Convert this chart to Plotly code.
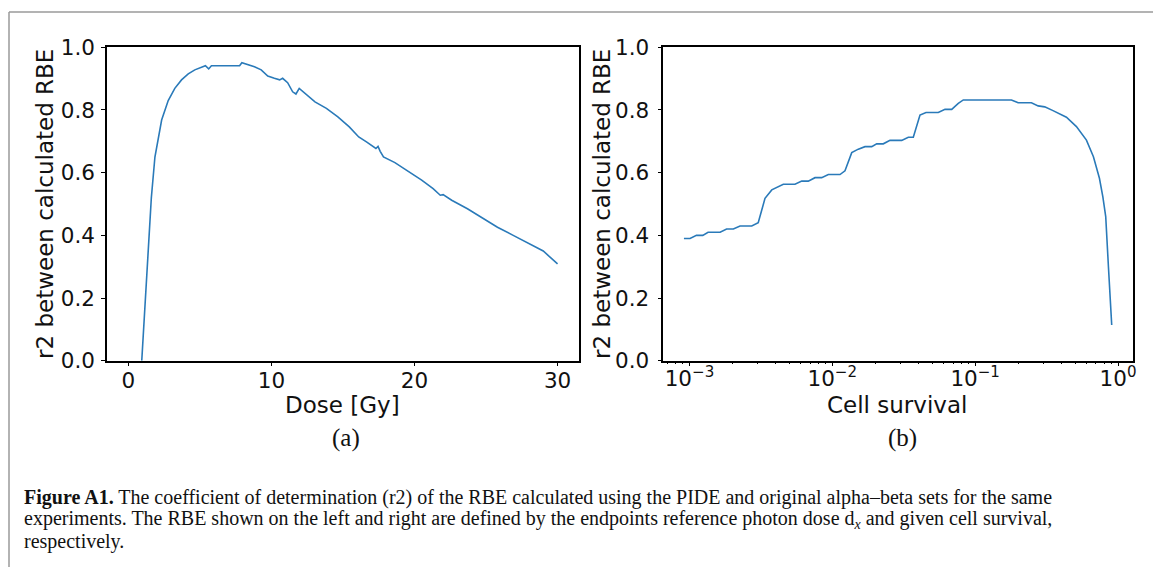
import plotly.graph_objects as go

# ---- data: panel (a)  r2 vs reference photon dose ----
dose = [0.93, 1.33, 1.60, 1.85, 2.13, 2.32, 2.78, 3.24, 3.71, 4.18, 4.64, 5.22, 5.38,
        5.61, 5.80, 6.50, 7.19, 7.77, 7.93, 8.23, 8.81, 9.28, 9.74, 10.20, 10.57, 10.78,
        11.13, 11.48, 11.71, 11.94, 12.24, 13.04, 13.84, 14.64, 15.44, 16.10, 16.64,
        17.30, 17.45, 17.60, 17.83, 18.63, 19.43, 20.50, 21.30, 21.80, 22.00, 22.60,
        23.70, 24.80, 25.80, 26.90, 27.90, 29.00, 30.00]
r2_dose = [0.000, 0.300, 0.520, 0.650, 0.725, 0.768, 0.830, 0.869, 0.896, 0.915, 0.928,
           0.938, 0.941, 0.931, 0.941, 0.941, 0.941, 0.941, 0.951, 0.947, 0.938, 0.928,
           0.908, 0.901, 0.896, 0.901, 0.887, 0.858, 0.851, 0.869, 0.858, 0.826, 0.805,
           0.778, 0.746, 0.714, 0.698, 0.677, 0.684, 0.668, 0.650, 0.632, 0.608, 0.576,
           0.549, 0.528, 0.530, 0.512, 0.485, 0.453, 0.426, 0.400, 0.375, 0.350, 0.309]

# ---- data: panel (b)  r2 vs cell survival ----
survival = [0.000915, 0.00101, 0.00112, 0.00124, 0.00135, 0.00164, 0.00182, 0.00203,
            0.00226, 0.00273, 0.00303, 0.00338, 0.00377, 0.00454, 0.00548, 0.00611,
            0.00679, 0.00757, 0.00843, 0.00938, 0.01132, 0.01227, 0.01368, 0.01521,
            0.01694, 0.01888, 0.02046, 0.02275, 0.02535, 0.03062, 0.03404, 0.03690,
            0.04111, 0.04529, 0.05521, 0.06152, 0.06855, 0.07621, 0.08260, 0.1795,
            0.2000, 0.2477, 0.2761, 0.3069, 0.3508, 0.4355, 0.5117, 0.6012, 0.6730,
            0.7413, 0.7834, 0.8204, 0.8570, 0.9036]
r2_surv = [0.390, 0.390, 0.400, 0.400, 0.410, 0.410, 0.420, 0.420, 0.430, 0.430, 0.440,
           0.518, 0.545, 0.563, 0.563, 0.573, 0.573, 0.584, 0.584, 0.594, 0.594, 0.606,
           0.664, 0.675, 0.683, 0.683, 0.692, 0.692, 0.703, 0.703, 0.713, 0.713, 0.784,
           0.792, 0.792, 0.802, 0.802, 0.821, 0.832, 0.832, 0.823, 0.823, 0.813, 0.810,
           0.798, 0.777, 0.747, 0.704, 0.651, 0.582, 0.523, 0.460, 0.300, 0.114]

# ---- tick labels ----
dose_ticks = [0, 10, 20, 30]
r2_ticks = [0.0, 0.2, 0.4, 0.6, 0.8, 1.0]
r2_ticktext = ["0.0", "0.2", "0.4", "0.6", "0.8", "1.0"]
surv_ticks = [0.001, 0.01, 0.1, 1]
surv_ticktext = ["10<sup>\u22123</sup>", "10<sup>\u22122</sup>", "10<sup>\u22121</sup>", "10<sup>0</sup>"]
surv_minor = [0.0007, 0.0008, 0.0009,
              0.002, 0.003, 0.004, 0.005, 0.006, 0.007, 0.008, 0.009,
              0.02, 0.03, 0.04, 0.05, 0.06, 0.07, 0.08, 0.09,
              0.2, 0.3, 0.4, 0.5, 0.6, 0.7, 0.8, 0.9]

W, H = 1153, 567
LINE = "#2a7ab9"
SANS = "DejaVu Sans"
SERIF = "Liberation Serif"


def px(x):
    return x / W


def py(y):
    return 1 - y / H


fig = go.Figure()
fig.add_trace(go.Scatter(x=dose, y=r2_dose, mode="lines", xaxis="x", yaxis="y",
                         line=dict(color=LINE, width=1.6), showlegend=False))
fig.add_trace(go.Scatter(x=survival, y=r2_surv, mode="lines", xaxis="x2", yaxis="y2",
                         line=dict(color=LINE, width=1.6), showlegend=False))

axis_common = dict(showline=True, linecolor="black", linewidth=1.5, mirror=True,
                   ticks="outside", ticklen=4, tickwidth=1.2, tickcolor="black",
                   showgrid=False, zeroline=False, automargin=False,
                   tickfont=dict(family=SANS, size=21.5, color="#111"))

y_top, y_bot = 47.3, 360.7
fig.update_layout(
    template="none",
    width=W, height=H, autosize=False,
    margin=dict(l=0, r=0, t=0, b=0, pad=0, autoexpand=False),
    paper_bgcolor="white", plot_bgcolor="white",
    showlegend=False,
    xaxis=dict(domain=[px(107), px(579)], range=[-1.5, 31.5], anchor="y",
               tickvals=dose_ticks, ticklabelstandoff=-4, **axis_common),
    yaxis=dict(domain=[py(y_bot), py(y_top)], range=[0, 1], anchor="x",
               tickvals=r2_ticks, ticktext=r2_ticktext, ticklabelstandoff=2, **axis_common),
    xaxis2=dict(domain=[px(663.3), px(1133)], type="log", range=[-3.183, 0.105], anchor="y2",
                tickvals=surv_ticks, ticktext=surv_ticktext, ticklabelstandoff=-6,
                minor=dict(tickvals=surv_minor, ticks="outside", ticklen=2, tickwidth=0.8,
                           tickcolor="black"),
                **axis_common),
    yaxis2=dict(domain=[py(y_bot), py(y_top)], range=[0, 1], anchor="x2",
                tickvals=r2_ticks, ticktext=r2_ticktext, ticklabelstandoff=4, **axis_common),
)

ann = []
title_font = dict(family=SANS, size=23, color="#111")
ylab = "r2 between calculated RBE"
ann.append(dict(text=ylab, x=px(45), y=py((y_top + y_bot) / 2), xref="paper", yref="paper",
                textangle=-90, showarrow=False, font=title_font, xanchor="center", yanchor="middle"))
ann.append(dict(text=ylab, x=px(602), y=py((y_top + y_bot) / 2), xref="paper", yref="paper",
                textangle=-90, showarrow=False, font=title_font, xanchor="center", yanchor="middle"))
ann.append(dict(text="Dose [Gy]", x=px(342), y=py(405), xref="paper", yref="paper",
                showarrow=False, font=title_font, xanchor="center", yanchor="middle"))
ann.append(dict(text="Cell survival", x=px(897), y=py(405), xref="paper", yref="paper",
                showarrow=False, font=title_font, xanchor="center", yanchor="middle"))
panel_font = dict(family=SERIF, size=25, color="#111")
ann.append(dict(text="(a)", x=px(346), y=py(438), xref="paper", yref="paper",
                showarrow=False, font=panel_font, xanchor="center", yanchor="middle"))
ann.append(dict(text="(b)", x=px(902), y=py(438), xref="paper", yref="paper",
                showarrow=False, font=panel_font, xanchor="center", yanchor="middle"))

cap_font = dict(family=SERIF, size=20, color="#111")
cap_lines = [
    "<b>Figure A1.</b> The coefficient of determination (r2) of the RBE calculated using the PIDE and original alpha\u2013beta sets for the same",
    "experiments. The RBE shown on the left and right are defined by the endpoints reference photon dose d<sub><i>x</i></sub> and given cell survival,",
    "respectively.",
]
for i, t in enumerate(cap_lines):
    ann.append(dict(text=t, x=px(22), y=py(497 + 22 * i), xref="paper", yref="paper",
                    showarrow=False, font=cap_font, xanchor="left", yanchor="middle"))
fig.update_layout(annotations=ann)

# outer figure frame (gray)
fig.add_shape(type="line", xref="paper", yref="paper", x0=px(9), x1=px(9), y0=0, y1=py(12),
              line=dict(color="#9a9a9a", width=1.5))
fig.add_shape(type="line", xref="paper", yref="paper", x0=px(9), x1=1, y0=py(12), y1=py(12),
              line=dict(color="#9a9a9a", width=1.5))

fig.write_html("out.html")
